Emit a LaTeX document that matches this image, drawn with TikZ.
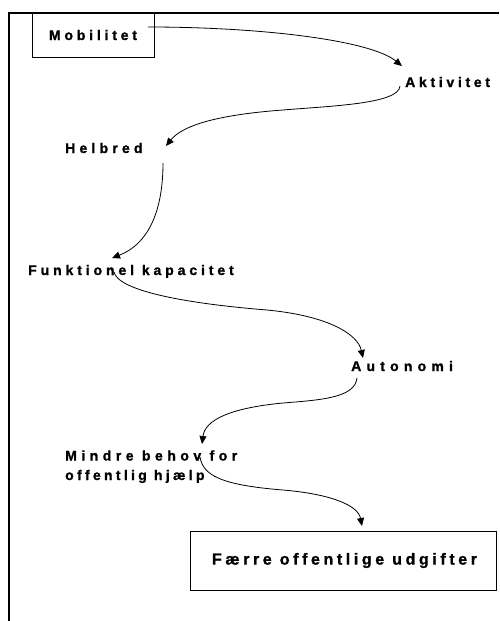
\documentclass[tikz,border=0pt]{standalone}
\usepackage{fontspec}
\setmainfont{Liberation Sans}
\newfontfamily\heavyfont{Liberation Sans Bold}[FakeBold=1.2]
\usetikzlibrary{arrows.meta}
\newlength\lsp
\setlength\lsp{4pt}
\def\lsloop#1{\ifx#1\relax\else#1\expandafter\lsnext\fi}
\def\lsnext#1{\ifx#1\relax\else\kern\lsp#1\expandafter\lsnext\fi}
\newcommand\sptext[1]{\lsloop#1\relax}
\newcommand\spgap{\kern\lsp\ \kern0pt}
\begin{document}
\begin{tikzpicture}[x=1pt,y=-1pt,
  lbl/.style={inner sep=0pt,anchor=base west,font=\heavyfont\fontsize{14}{19.5}\selectfont},
  boxed/.style={draw,line width=0.9pt,inner sep=0pt},
  conn/.style={line width=0.8pt,-{Triangle[length=8pt,width=7pt]}},
  frameline/.style={line width=2pt}]
\useasboundingbox (0,0) rectangle (499,621);
% frame
\draw[frameline] (9,621) -- (9,13) -- (499,13);
% nodes
\node[boxed,minimum width=122pt,minimum height=44pt,font=\heavyfont\fontsize{14}{16}\selectfont] (mob) at (93,35)
  {\setlength\lsp{3.8pt}\sptext{Mobilitet}};
\node[lbl] (akt) at (405,87) {\setlength\lsp{3.7pt}\sptext{Aktivitet}};
\node[lbl] (hel) at (65,153) {\setlength\lsp{4.2pt}\sptext{Helbred}};
\node[lbl] (fun) at (28,275) {\setlength\lsp{3.9pt}\sptext{Funktionel}\spgap\sptext{kapacitet}};
\node[lbl] (aut) at (351,371) {\setlength\lsp{5.2pt}\sptext{Autonomi}};
\node[lbl,align=left] (min) at (65,480)
  {\setlength\lsp{4.5pt}\sptext{Mindre}\spgap\sptext{behov}\spgap\sptext{for}\\
   \setlength\lsp{3.3pt}\sptext{offentlig}\spgap\sptext{hjælp}};
\node[boxed,minimum width=306pt,minimum height=59pt,font=\heavyfont\fontsize{16}{18}\selectfont] (fae) at (343,560.5)
  {\setlength\lsp{3.6pt}\hspace*{3pt}\sptext{Færre}\spgap\sptext{offentlige}\spgap\sptext{udgifter}};
% connector end points
\coordinate (s1) at (148,27);
\coordinate (e1) at (402,66);
\coordinate (s2) at (400,86);
\coordinate (e2) at (166,146);
\coordinate (s3) at (163,163);
\coordinate (e3) at (112,258);
\coordinate (s4) at (114,272);
\coordinate (e4) at (363,358);
\coordinate (s5) at (357,378);
\coordinate (e5) at (202,444);
\coordinate (s6) at (200,457);
\coordinate (e6) at (362,526);
% connectors
\draw[conn] (s1) .. controls (260,27) and (370,40) .. (e1);
\draw[conn] (s2) .. controls (399,104) and (330,106) .. (283,110) .. controls (215,115) and (182,126) .. (e2);
\draw[conn] (s3) .. controls (163,215) and (146,245) .. (e3);
\draw[conn] (s4) .. controls (118,290) and (180,303) .. (267,310) .. controls (330,316) and (358,335) .. (e4);
\draw[conn] (s5) .. controls (355,398) and (320,400) .. (283,403) .. controls (230,408) and (205,420) .. (e5);
\draw[conn] (s6) .. controls (203,475) and (220,485) .. (283,490) .. controls (330,494) and (358,505) .. (e6);
\end{tikzpicture}
\end{document}
